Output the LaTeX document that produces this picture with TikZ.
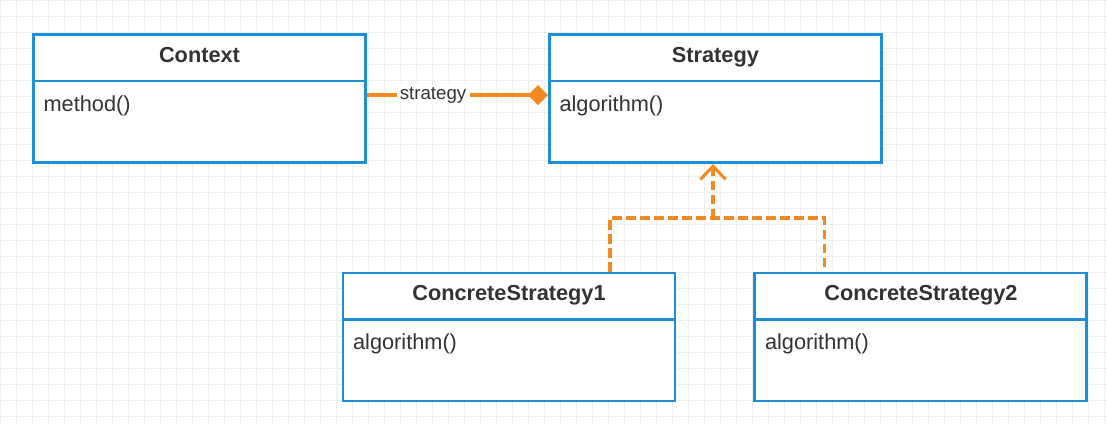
\documentclass[tikz,border=0pt]{standalone}
\usepackage{fontspec}
\setmainfont{Liberation Sans}
\usetikzlibrary{arrows.meta,positioning,calc}
\definecolor{umlblue}{HTML}{1E8FD5}
\definecolor{umlorange}{HTML}{F28A21}
\definecolor{ink}{HTML}{333333}
\definecolor{gridc}{HTML}{EFEFEF}

\begin{document}
\begin{tikzpicture}[x=0.75pt,y=-0.75pt,
  class/.style={draw=umlblue,line width=2.2pt,fill=white,minimum width=249pt,
                minimum height=96pt,inner sep=0pt},
  title/.style={font=\fontsize{16.3}{19}\selectfont\bfseries,text=ink,inner sep=0pt,anchor=base},
  member/.style={font=\fontsize{16.3}{19}\selectfont,text=ink,inner sep=0pt,anchor=base west},
  divider/.style={draw=umlblue,line width=2.2pt},
  assoc/.style={draw=umlorange,line width=2.3pt,-{Diamond[length=15pt,width=15pt]}},
  rolelbl/.style={fill=white,inner sep=2.5pt,font=\fontsize{14}{16}\selectfont,text=ink},
  realize/.style={draw=umlorange,line width=2.3pt,dash pattern=on 7pt off 3.5pt}
]
\useasboundingbox (0,0) rectangle (1107,424);
\draw[gridc,line width=0.5pt,step=12pt] (0pt,-318pt) grid (830.25pt,0pt);

% classes
\node[class] (ctx) at (199.5,98.5) {};
\node[class,right=135.75pt of ctx] (str) {};
\node[class] (cs1) at (509,337) {};
\node[class,right=57.75pt of cs1] (cs2) {};

\foreach \c/\t/\m in {ctx/Context/method(),str/Strategy/algorithm(),
    cs1/ConcreteStrategy1/algorithm(),cs2/ConcreteStrategy2/algorithm()}{
  \node[title] (\c-name) at ([yshift=-22pt]\c.north) {\t};
  \draw[divider] ([yshift=-36pt]\c.north west) -- ([yshift=-36pt]\c.north east);
  \node[member] (\c-op) at ([xshift=8.5pt,yshift=-58.5pt]\c.north west) {\m};
}

% association
\draw[assoc] ([yshift=2.6pt]ctx.east) -- node[rolelbl,pos=0.365] (role) {strategy}
  ([yshift=2.6pt]str.west);

% realization
\coordinate (join) at (713,218);
\draw[realize] ([xshift=75.75pt]cs1.north) |- (join) -| ([xshift=-72.4pt]cs2.north);
\draw[realize,-{Straight Barb[length=10pt,width=19pt]}] (join) -- (join |- str.south);
\end{tikzpicture}
\end{document}
